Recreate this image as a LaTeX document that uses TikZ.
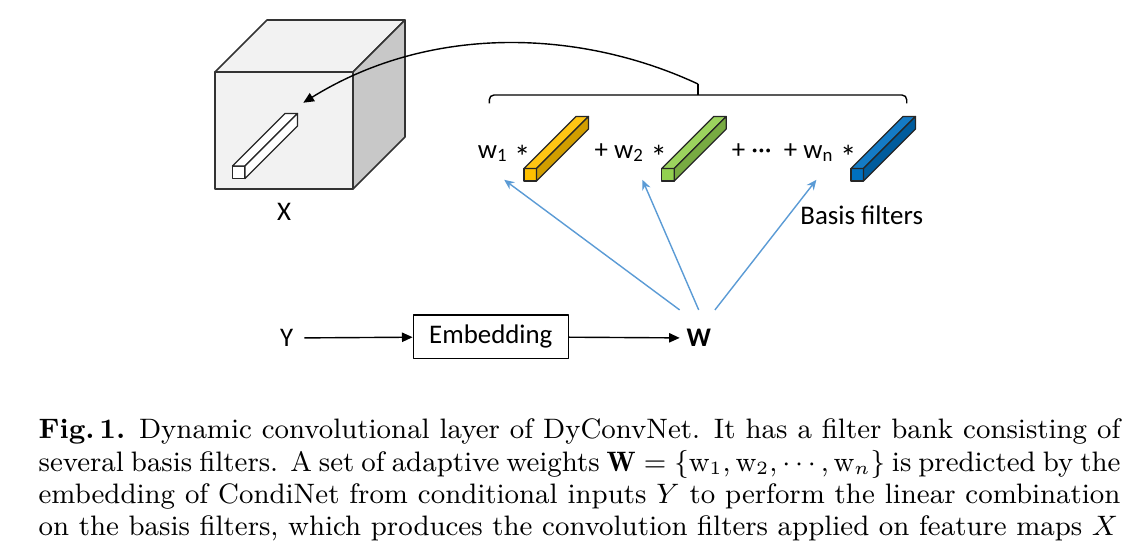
\documentclass[tikz,border=0pt]{standalone}
\usepackage{fontspec}
\newfontfamily\calibri{Carlito}
\usetikzlibrary{arrows.meta,calc}
\definecolor{yel}{HTML}{FFC000}
\definecolor{grn}{HTML}{92D050}
\definecolor{blu}{HTML}{0070C0}
\definecolor{lblue}{HTML}{5B9BD5}
\definecolor{facegray}{HTML}{F2F2F2}
\definecolor{sidegray}{HTML}{C8C8C8}
\newcommand{\conv}{\raisebox{-0.4em}{\fontsize{10.5}{12}\selectfont *}}
\tikzset{
  lab/.style={font=\calibri\fontsize{8.6}{10}\selectfont},
  cube/.style={draw=black!80, line width=0.5pt, fill=facegray},
  bar/.style={draw=black!85, line width=0.4pt, fill=white},
  bluearrow/.style={draw=lblue, line width=0.45pt, -{Stealth[length=3.2pt,width=2.8pt]}}
}
\begin{document}
\begin{tikzpicture}[x=0.32pt, y=0.32pt, >={Triangle[length=3.4pt,width=3pt]}, line join=round]
  \useasboundingbox (0,0) rectangle (1127,559);
  % feature maps X
  \draw[cube] (215,370) rectangle (353,487);
  \draw[cube] (215,487) -- (267,539) -- (405,539) -- (353,487) -- cycle;
  \draw[cube, fill=sidegray] (353,370) -- (405,422) -- (405,539) -- (353,487) -- cycle;
  \begin{scope}[shift={(232.5,380.5)}]
    \draw[bar] (0,0) rectangle (12.5,12.5);
    \draw[bar] (0,12.5) -- (52.5,65) -- (65,65) -- (12.5,12.5) -- cycle;
    \draw[bar] (12.5,0) -- (65,52.5) -- (65,65) -- (12.5,12.5) -- cycle;
  \end{scope}
  \coordinate (tgt) at (303.3,456.3);
  \node[lab] (X) at (284,347) {X};

  % basis filters
  \foreach \x/\c in {524/yel, 661.7/grn, 851/blu}{
    \begin{scope}[shift={(\x,378)}]
      \draw[bar, fill=\c] (0,0) rectangle (12.5,12.5);
      \draw[bar, fill=\c!92!white] (0,12.5) -- (52,64.5) -- (64.5,64.5) -- (12.5,12.5) -- cycle;
      \draw[bar, fill=\c!82!black] (12.5,0) -- (64.5,52) -- (64.5,64.5) -- (12.5,12.5) -- cycle;
    \end{scope}
  }
  \node[lab, anchor=base] (w1) at (504.2,401) {w\textsubscript{1} \conv};
  \node[lab, anchor=base] (w2) at (630.8,401) {+ w\textsubscript{2} \conv};
  \node[lab, anchor=base] (wn) at (794.2,401) {+ ··· \ + w\textsubscript{n} \conv};
  \node[lab] (basis) at (861.7,344) {Basis filters};

  % bracket
  \draw[line width=0.45pt, rounded corners=1.5pt] (489.3,455.7) -- (489.3,464) -- (906.7,464) -- (906.7,455.7);
  \draw[line width=0.45pt] (698,464) -- (698,475) coordinate (brk);
  \draw[line width=0.45pt, ->] (brk) .. controls (580,530) and (430,535) .. (tgt);

  % embedding
  \node[lab] (Y) at (286.7,221) {Y};
  \node[lab, draw, line width=0.45pt, minimum width=49.6pt, minimum height=13.9pt, inner sep=0pt] (emb) at (490.8,222.3) {Embedding};
  \node[lab, inner xsep=2pt, inner ysep=6pt] (W) at (698.7,221) {\bfseries W};
  \draw[line width=0.45pt, ->] (Y) -- (emb);
  \draw[line width=0.45pt, ->] (emb) -- (W);
  \draw[bluearrow] (W.north west) -- (w1.south);
  \draw[bluearrow] (W.north) -- (w2.-64);
  \draw[bluearrow] (W.60) -- (wn.-47);

  % caption
  \node[anchor=north west, inner sep=0pt, text width=346.2pt, align=justify,
        font=\fontsize{9}{10.34}\selectfont] (cap) at (38,140.5)
  {\parfillskip=0pt \textbf{Fig.\,1.} Dynamic convolutional layer of DyConvNet. It has a filter bank consisting of\linebreak
   several basis filters. A set of adaptive weights $\mathbf{W}=\{\mathrm{w}_1,\mathrm{w}_2,\cdots,\mathrm{w}_n\}$ is predicted by the\linebreak
   embedding of CondiNet from conditional inputs $Y$ to perform the linear combination\linebreak
   on the basis filters, which produces the convolution filters applied on feature maps $X$};
\end{tikzpicture}
\end{document}
